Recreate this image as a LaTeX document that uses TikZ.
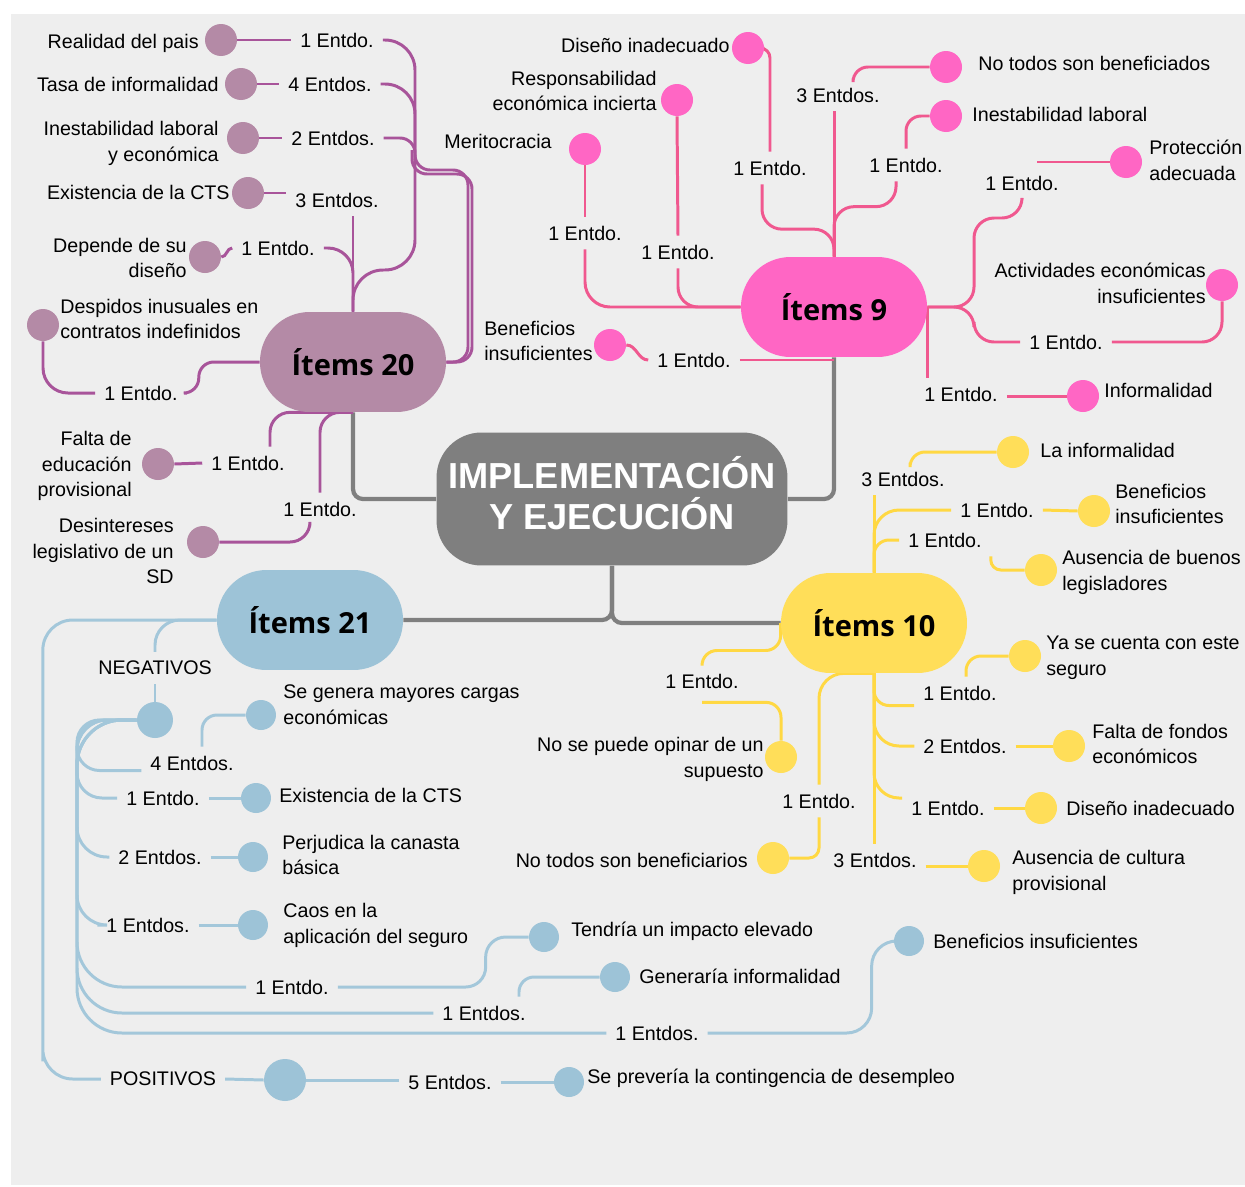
\documentclass[tikz,border=0pt]{standalone}
\usepackage{fontspec}
\setmainfont{Liberation Sans}
\newfontfamily\topicfont{Open Sans}
\definecolor{paper}{HTML}{EEEEEE}
\definecolor{hubc}{HTML}{7F7F7F}
\definecolor{purl}{HTML}{A8549A}
\definecolor{purf}{HTML}{B48AA6}
\definecolor{pnkl}{HTML}{F0588F}
\definecolor{pnkf}{HTML}{FF66C4}
\definecolor{yell}{HTML}{FFD843}
\definecolor{yelf}{HTML}{FFDE59}
\definecolor{blul}{HTML}{A3C7DA}
\definecolor{bluf}{HTML}{9DC3D7}
\pgfdeclarelayer{paperlayer}
\pgfdeclarelayer{linklayer}
\pgfsetlayers{paperlayer,linklayer,main}

\begin{document}
\begin{tikzpicture}[x=0.02cm, y=-0.02cm,
  hub/.style={rectangle, fill=hubc, rounded corners=0.9cm, minimum width=7.02cm, minimum height=2.66cm},
  hubtext/.style={text=white, align=center, inner sep=0pt, font=\bfseries\fontsize{20.6}{23}\selectfont},
  topic/.style={rectangle, rounded corners=0.99cm, minimum width=3.72cm, minimum height=2cm, font=\topicfont\bfseries\fontsize{16.5}{18}\selectfont},
  dot/.style={circle, inner sep=0pt, minimum size=0.64cm},
  cnt/.style={font=\fontsize{11.2}{14.7}\selectfont, inner sep=5pt},
  txt/.style={font=\fontsize{11.2}{14.7}\selectfont, inner sep=0pt},
  link/.style={line width=1.7pt, rounded corners=0.3cm},
  trunk/.style={line width=2.4pt, color=hubc, rounded corners=0.2cm}]

  \begin{pgfonlayer}{paperlayer}
    \fill[white] (0,0) rectangle (1245,1187);
    \fill[paper] (11,14) rectangle (1245,1185);
  \end{pgfonlayer}

  % centre and topics
  \node[hub] (hub) at (612,499) {};
  \node[hubtext] (hubt) at (612,493) {IMPLEMENTACIÓN\\Y EJECUCIÓN};
  \node[topic, fill=purf] (i20) at (353,362) {Ítems 20};
  \node[topic, fill=pnkf] (i9) at (834,307) {Ítems 9};
  \node[topic, fill=bluf] (i21) at (310,620) {Ítems 21};
  \node[topic, fill=yelf] (i10) at (874,623) {Ítems 10};

  % Items 20
  \node[dot, fill=purf] (pc1) at (221,40) {};
  \node[dot, fill=purf] (pc2) at (241,84) {};
  \node[dot, fill=purf] (pc3) at (243,138) {};
  \node[dot, fill=purf] (pc4) at (248,193) {};
  \node[dot, fill=purf] (pc5) at (205,257) {};
  \node[dot, fill=purf] (pc6) at (43,325) {};
  \node[dot, fill=purf] (pc7) at (158,464) {};
  \node[dot, fill=purf] (pc8) at (203,542) {};
  \node[txt, anchor=east] (pt1) at (199,43) {Realidad del pais};
  \node[txt, anchor=east] (pt2) at (219,84) {Tasa de informalidad};
  \node[txt, anchor=east, align=right] (pt3) at (219,143) {Inestabilidad laboral\\y económica};
  \node[txt, anchor=east] (pt4) at (230,192) {Existencia de la CTS};
  \node[txt, anchor=east, align=right] (pt5) at (187,258) {Depende de su\\diseño};
  \node[txt, anchor=west, align=left] (pt6) at (60,319) {Despidos inusuales en\\contratos indefinidos};
  \node[txt, anchor=east, align=right] (pt7) at (132,466) {Falta de\\educación\\provisional};
  \node[txt, anchor=east, align=right] (pt8) at (174,551) {Desintereses\\legislativo de un\\SD};
  \node[cnt] (pl1) at (337,40) {1 Entdo.};
  \node[cnt] (pl2) at (330,84) {4 Entdos.};
  \node[cnt] (pl3) at (333,138) {2 Entdos.};
  \node[cnt] (pl4) at (337,200) {3 Entdos.};
  \node[cnt] (pl5) at (278,248) {1 Entdo.};
  \node[cnt] (pl6) at (141,393) {1 Entdo.};
  \node[cnt] (pl7) at (248,463) {1 Entdo.};
  \node[cnt] (pl8) at (320,509) {1 Entdo.};
  \coordinate (pjoin) at (412,150);

  % Items 9
  \node[dot, fill=pnkf] (kc1) at (748,48) {};
  \node[dot, fill=pnkf] (kc2) at (677,100) {};
  \node[dot, fill=pnkf] (kc3) at (585,149) {};
  \node[dot, fill=pnkf] (kc4) at (946,67) {};
  \node[dot, fill=pnkf] (kc5) at (946,116) {};
  \node[dot, fill=pnkf] (kc6) at (1126,162) {};
  \node[dot, fill=pnkf] (kc7) at (1222,285) {};
  \node[dot, fill=pnkf] (kc8) at (1083,396) {};
  \node[dot, fill=pnkf] (kc9) at (610,345) {};
  \node[txt, anchor=east] (kt1) at (730,45) {Diseño inadecuado};
  \node[txt, anchor=east, align=right] (kt2) at (657,91) {Responsabilidad\\económica incierta};
  \node[txt, anchor=east] (kt3) at (552,141) {Meritocracia};
  \node[txt, anchor=west] (kt4) at (978,63) {No todos son beneficiados};
  \node[txt, anchor=west] (kt5) at (972,114) {Inestabilidad laboral};
  \node[txt, anchor=west, align=left] (kt6) at (1149,160) {Protección\\adecuada};
  \node[txt, anchor=east, align=right] (kt7) at (1206,283) {Actividades económicas\\insuficientes};
  \node[txt, anchor=west] (kt8) at (1104,390) {Informalidad};
  \node[txt, anchor=west, align=left] (kt9) at (484,341) {Beneficios\\insuficientes};
  \node[cnt] (kl1) at (770,168) {1 Entdo.};
  \node[cnt] (kl2) at (838,95) {3 Entdos.};
  \node[cnt] (kl3) at (906,165) {1 Entdo.};
  \node[cnt] (kl4) at (1022,183) {1 Entdo.};
  \node[cnt] (kl5) at (1066,342) {1 Entdo.};
  \node[cnt] (kl6) at (961,394) {1 Entdo.};
  \node[cnt] (kl7) at (585,233) {1 Entdo.};
  \node[cnt] (kl8) at (678,252) {1 Entdo.};
  \node[cnt] (kl9) at (694,360) {1 Entdo.};

  % Items 10
  \node[dot, fill=yelf] (yc1) at (1013,452) {};
  \node[dot, fill=yelf] (yc2) at (1094,511) {};
  \node[dot, fill=yelf] (yc3) at (1041,570) {};
  \node[dot, fill=yelf] (yc4) at (1025,656) {};
  \node[dot, fill=yelf] (yc5) at (1069,746) {};
  \node[dot, fill=yelf] (yc6) at (1041,808) {};
  \node[dot, fill=yelf] (yc7) at (984,866) {};
  \node[dot, fill=yelf] (yc8) at (781,757) {};
  \node[dot, fill=yelf] (yc9) at (773,858) {};
  \node[txt, anchor=west] (yt1) at (1040,450) {La informalidad};
  \node[txt, anchor=west, align=left] (yt2) at (1115,504) {Beneficios\\insuficientes};
  \node[txt, anchor=west, align=left] (yt3) at (1062,572) {Ausencia de buenos\\legisladores};
  \node[txt, anchor=west, align=left] (yt4) at (1046,658) {Ya se cuenta con este\\seguro};
  \node[txt, anchor=west, align=left] (yt5) at (1092,744) {Falta de fondos\\económicos};
  \node[txt, anchor=west] (yt6) at (1066,808) {Diseño inadecuado};
  \node[txt, anchor=west, align=left] (yt7) at (1012,872) {Ausencia de cultura\\provisional};
  \node[txt, anchor=east, align=right] (yt8) at (764,759) {No se puede opinar de un\\supuesto};
  \node[txt, anchor=east] (yt9) at (748,860) {No todos son beneficiarios};
  \node[cnt] (yl1) at (903,479) {3 Entdos.};
  \node[cnt] (yl2) at (997,510) {1 Entdo.};
  \node[cnt] (yl3) at (945,540) {1 Entdo.};
  \node[cnt] (yl4) at (960,693) {1 Entdo.};
  \node[cnt] (yl5) at (965,746) {2 Entdos.};
  \node[cnt] (yl6) at (948,808) {1 Entdo.};
  \node[cnt] (yl7) at (875,860) {3 Entdos.};
  \node[cnt] (yl8) at (702,681) {1 Entdo.};
  \node[cnt] (yl9) at (819,801) {1 Entdo.};

  % Items 21
  \node[cnt] (bneg) at (155,668) {NEGATIVOS};
  \node[dot, fill=bluf, minimum size=0.72cm] (bnc) at (155,720) {};
  \node[cnt] (bpos) at (163,1079) {POSITIVOS};
  \node[dot, fill=bluf, minimum size=0.84cm] (bpc) at (285,1080) {};
  \node[dot, fill=bluf, minimum size=0.6cm] (bc0) at (569,1082) {};
  \node[dot, fill=bluf, minimum size=0.6cm] (bc1) at (261,715) {};
  \node[dot, fill=bluf, minimum size=0.6cm] (bc2) at (256,798) {};
  \node[dot, fill=bluf, minimum size=0.6cm] (bc3) at (253,857) {};
  \node[dot, fill=bluf, minimum size=0.6cm] (bc4) at (253,925) {};
  \node[dot, fill=bluf, minimum size=0.6cm] (bc5) at (544,937) {};
  \node[dot, fill=bluf, minimum size=0.6cm] (bc6) at (615,977) {};
  \node[dot, fill=bluf, minimum size=0.6cm] (bc7) at (909,941) {};
  \node[txt, anchor=west] (bt0) at (587,1078) {Se prevería la contingencia de desempleo};
  \node[txt, anchor=west, align=left] (bt1) at (283,705) {Se genera mayores cargas\\económicas};
  \node[txt, anchor=west] (bt2) at (279,795) {Existencia de la CTS};
  \node[txt, anchor=west, align=left] (bt3) at (282,855) {Perjudica la canasta\\básica};
  \node[txt, anchor=west, align=left] (bt4) at (283,925) {Caos en la\\aplicación del seguro};
  \node[txt, anchor=west] (bt5) at (571,931) {Tendría un impacto elevado};
  \node[txt, anchor=west] (bt6) at (639,976) {Generaría informalidad};
  \node[txt, anchor=west] (bt7) at (933,941) {Beneficios insuficientes};
  \node[cnt] (bl0) at (450,1082) {5 Entdos.};
  \node[cnt] (bl1) at (192,763) {4 Entdos.};
  \node[cnt] (bl2) at (163,798) {1 Entdo.};
  \node[cnt] (bl3) at (160,857) {2 Entdos.};
  \node[cnt] (bl4) at (148,925) {1 Entdos.};
  \node[cnt] (bl5) at (292,987) {1 Entdo.};
  \node[cnt] (bl6) at (484,1013) {1 Entdos.};
  \node[cnt] (bl7) at (657,1033) {1 Entdos.};
  \coordinate (bspine) at (77,720);

  \begin{pgfonlayer}{linklayer}
    \draw[trunk] (hub.west) -| (i20.south);
    \draw[trunk] (hub.east) -| (i9.south);
    \draw[trunk] (hub.south) |- (i21.east);
    \draw[trunk] (hub.south) |- (i10.west);

    \draw[link, purl] (pc1.east) -- (pl1.west);
    \draw[link, purl] (pc2.east) -- (pl2.west);
    \draw[link, purl] (pc3.east) -- (pl3.west);
    \draw[link, purl] (pc4.east) -- (pc4.east -| pl4.west);
    \draw[link, purl] (pc5.east) to[out=0, in=180] (pl5.west);
    \draw[link, purl, rounded corners=0.5cm] (pc6.south) |- (pl6.west);
    \draw[link, purl] (pc7.east) -- (pl7.west);
    \draw[link, purl, rounded corners=0.4cm] (pc8.east) -| ([xshift=-0.2cm]pl8.south);
    \draw[link, purl, rounded corners=0.6cm] (pl1.east) -| (415,270) -| (i20.north);
    \draw[link, purl, rounded corners=0.6cm] (pl2.east) -| (415,160);
    \draw[link, purl] (pl3.east) -| (415,170) -| (468,362) -- (i20.east);
    \draw[link, purl] (pjoin) |- (472,174) |- (i20.east);
    \draw[link, purl] (i20.north |- pl4.south) -- (i20.north);
    \draw[link, purl, rounded corners=0.5cm] (pl5.east) -| (i20.north);
    \draw[link, purl] (pl6.east) -- ++(12,0) |- (i20.west);
    \draw[link, purl, rounded corners=0.4cm] ([xshift=0.44cm]pl7.north) |- (i20.south);
    \draw[link, purl, rounded corners=0.4cm] (pl8.north) |- (i20.south);

    \draw[link, pnkl, rounded corners=0.2cm] (kc1.east) -| (kl1.north);
    \draw[link, pnkl, rounded corners=0.4cm] ([xshift=-0.16cm]kl1.south) |- ([yshift=0.55cm]i9.north) -- (i9.north);
    \draw[link, pnkl] (i9.north |- kl2.south) -- (i9.north);
    \draw[link, pnkl] ([xshift=0.3cm]kl2.north) |- (kc4.west);
    \draw[link, pnkl] (kl3.north) |- (kc5.west);
    \draw[link, pnkl, rounded corners=0.4cm] ([xshift=-0.2cm]kl3.south) |- ([yshift=1.0cm]i9.north) -- (i9.north);
    \draw[link, pnkl] (kc6.west) -- ([xshift=0.3cm]kl4.north |- kc6.west);
    \draw[link, pnkl, rounded corners=0.4cm] (kl4.south) |- (974,218) |- (i9.east);
    \draw[link, pnkl, rounded corners=0.4cm] (kl5.west) -| (974,307) -- (i9.east);
    \draw[link, pnkl, rounded corners=0.4cm] (kl5.east) -| (kc7.south);
    \draw[link, pnkl] (kl6.north -| i9.east) -- (i9.east);
    \draw[link, pnkl] (kl6.east |- kc8.west) -- (kc8.west);
    \draw[link, pnkl] (kc3.south) -- (kl7.north);
    \draw[link, pnkl, rounded corners=0.5cm] (kl7.south) |- (i9.west);
    \draw[link, pnkl] (kc2.south) -- (kl8.north);
    \draw[link, pnkl, rounded corners=0.4cm] (kl8.south) |- (i9.west);
    \draw[link, pnkl] (kc9.east) to[out=0, in=180] (kl9.west);
    \draw[link, pnkl] (kl9.east) -- (kl9.east -| i9.south);

    \draw[link, yell] (i10.north) -- (i10.north |- yl1.south);
    \draw[link, yell] ([xshift=0.14cm]yl1.north) |- (yc1.west);
    \draw[link, yell] (yl2.east) -- (yc2.west);
    \draw[link, yell, rounded corners=0.5cm] (yl2.west) -| (i10.north);
    \draw[link, yell] (yl3.west) -| (i10.north);
    \draw[link, yell, rounded corners=0.2cm] (yl3.south east) |- (yc3.west);
    \draw[link, yell] (i10.south) -- (i10.south |- yl7.north);
    \draw[link, yell] (i10.south) |- ([yshift=-0.25cm]yl4.west);
    \draw[link, yell] ([xshift=0.12cm]yl4.north) |- (yc4.west);
    \draw[link, yell, rounded corners=0.5cm] (i10.south) |- (yl5.west);
    \draw[link, yell] (yl5.east) -- (yc5.west);
    \draw[link, yell, rounded corners=0.5cm] (i10.south) |- ([yshift=0.2cm]yl6.west);
    \draw[link, yell] (yl6.east) -- (yc6.west);
    \draw[link, yell] (yl7.east |- yc7.west) -- (yc7.west);
    \draw[link, yell] (yl8.north) |- ([yshift=-0.55cm]i10.west) -- (i10.west);
    \draw[link, yell] ([yshift=-0.1cm]yl8.south) -| (yc8.north);
    \draw[link, yell, rounded corners=0.5cm] (yl9.north) |- (i10.south);
    \draw[link, yell, rounded corners=0.2cm] (yl9.south) |- (yc9.east);

    \draw[link, blul, rounded corners=0.6cm] (i21.west) -| ([xshift=-1.16cm]bpos.west) |- (bpos.west);
    \draw[link, blul, rounded corners=0.5cm] (i21.west) -| (bneg.north);
    \draw[link, blul] (bneg.south) -- (bnc.north);
    \draw[link, blul] (bpos.east) -- (bpc.west);
    \draw[link, blul] (bpc.east) -- (bpc.east -| bl0.west);
    \draw[link, blul] (bl0.east) -- (bc0.west);
    \draw[link, blul, rounded corners=0.45cm] (bnc.west) -| ([yshift=-0.15cm]bspine |- bl1.west) -- ([yshift=-0.15cm]bl1.west);
    \draw[link, blul, rounded corners=0.5cm] (bnc.west) -| (bspine |- bl2.west) -- (bl2.west);
    \draw[link, blul, rounded corners=0.6cm] (bnc.west) -| (bspine |- bl3.west) -- (bl3.west);
    \draw[link, blul, rounded corners=0.6cm] (bnc.west) -| (bspine |- bl4.west) -- (bl4.west);
    \draw[link, blul, rounded corners=0.9cm] (bnc.west) -| (bspine |- bl5.west) -- (bl5.west);
    \draw[link, blul, rounded corners=0.9cm] (bnc.west) -| (bspine |- bl6.west) -- (bl6.west);
    \draw[link, blul, rounded corners=0.9cm] (bnc.west) -| (bspine |- bl7.west) -- (bl7.west);
    \draw[link, blul] ([xshift=0.2cm]bl1.north) |- (bc1.west);
    \draw[link, blul] (bl2.east) -- (bc2.west);
    \draw[link, blul] (bl3.east) -- (bc3.west);
    \draw[link, blul] (bl4.east) -- (bc4.west);
    \draw[link, blul, rounded corners=0.4cm] (bl5.east) -| ([xshift=-0.86cm]bc5.west) -- (bc5.west);
    \draw[link, blul] ([xshift=0.7cm]bl6.north) |- (bc6.west);
    \draw[link, blul, rounded corners=0.5cm] (bl7.east) -| ([xshift=-0.44cm]bc7.west) -- (bc7.west);
  \end{pgfonlayer}
\end{tikzpicture}
\end{document}
